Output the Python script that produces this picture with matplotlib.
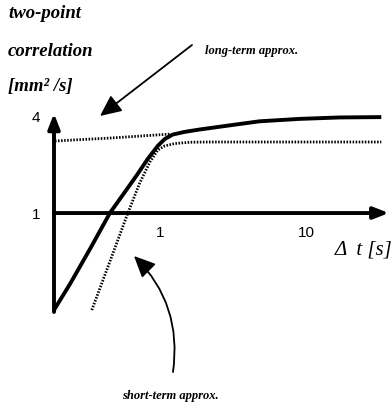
import matplotlib
matplotlib.use("Agg")
import matplotlib.pyplot as plt
from matplotlib.patches import FancyArrowPatch

# ---- data (log-log axes) ----
full_x = [0.19, 0.244, 0.334, 0.457, 0.578, 0.698, 0.829, 0.969, 1.081, 1.226, 1.48, 1.87, 2.99, 4.79, 8.96, 16.8, 32.4]
full_y = [0.25, 0.362, 0.597, 1.0, 1.35, 1.72, 2.17, 2.61, 2.88, 3.07, 3.19, 3.30, 3.50, 3.71, 3.84, 3.92, 3.94]

long_x = [0.193, 0.457, 1.17]
long_y = [2.80, 2.92, 3.09]

short_x = [0.344, 0.457, 0.606, 0.731, 0.855, 0.969, 1.081, 1.265, 1.60, 2.1, 32.4]
short_y = [0.25, 0.50, 1.0, 1.54, 2.07, 2.46, 2.61, 2.70, 2.75, 2.76, 2.76]

x_ticks = [1, 10]
x_ticklabels = ["1", "10"]
y_ticks = [1, 4]
y_ticklabels = ["1", "4"]

plt.rcParams['font.family'] = ['Liberation Sans', 'DejaVu Sans']
fig = plt.figure(figsize=(3.92, 4.13), dpi=100)
ax = fig.add_axes([54/392, 1-312/413, (388-54)/392, (312-115)/413])
ax.set_xscale('log')
ax.set_yscale('log')
ax.set_xlim(0.19, 36)
ax.set_ylim(0.243, 4.06)

for s in ax.spines.values():
    s.set_visible(False)
ax.spines['bottom'].set_position(('data', 1))

# axes with arrows
ax.annotate('', xy=(36.5, 1), xytext=(0.19, 1),
            arrowprops=dict(arrowstyle='-|>,head_length=0.9,head_width=0.35', lw=2.8, color='black',
                            shrinkA=0, shrinkB=0), annotation_clip=False)
ax.annotate('', xy=(0.19, 4.15), xytext=(0.19, 0.243),
            arrowprops=dict(arrowstyle='-|>,head_length=0.9,head_width=0.35', lw=2.8, color='black',
                            shrinkA=0, shrinkB=0), annotation_clip=False)

ax.set_xticks(x_ticks)
ax.set_xticklabels(x_ticklabels)
ax.set_yticks(y_ticks)
ax.set_yticklabels(y_ticklabels)
ax.minorticks_off()
ax.tick_params(axis='both', length=0, labelsize=11)
ax.tick_params(axis='x', pad=9)
ax.tick_params(axis='y', pad=10)

dot = (0, (0.55, 0.55))
ax.plot(full_x, full_y, color='black', lw=2.8, solid_capstyle='butt', solid_joinstyle='round', clip_on=False)
ax.plot(long_x, long_y, color='black', lw=2.0, ls=dot, clip_on=False)
ax.plot(short_x, short_y, color='black', lw=2.0, ls=dot, clip_on=False)

serif = ['Liberation Serif', 'DejaVu Serif']
for txt, y in [("two-point", 14), ("correlation", 52), ("[mm² /s]", 87)]:
    fig.text(8/392, 1-y/413, txt, family=serif, style='italic', weight='bold',
             fontsize=13.5, ha='left', va='center')

fig.text(205/392, 1-51/413, "long-term approx.", family=serif, style='italic', weight='bold',
         fontsize=9, ha='left', va='center')
fig.text(122/392, 1-396/413, "short-term approx.", family=serif, style='italic', weight='bold',
         fontsize=9, ha='left', va='center')
fig.text(335/392, 1-250/413, "Δ  t [s]", family=serif, style='italic',
         fontsize=15, ha='left', va='center')

# arrows for annotations
a1 = FancyArrowPatch((192/392, 1-45/413), (100/392, 1-116/413), transform=fig.transFigure,
                     arrowstyle='-|>,head_length=13,head_width=6', lw=1.3, color='black',
                     shrinkA=0, shrinkB=0)
fig.patches.append(a1)
a2 = FancyArrowPatch((173/392, 1-372/413), (134/392, 1-256/413), transform=fig.transFigure,
                     arrowstyle='-|>,head_length=13,head_width=6', lw=1.3, color='black',
                     connectionstyle='arc3,rad=0.25', shrinkA=0, shrinkB=0)
fig.patches.append(a2)

fig.savefig("out.png", dpi=100)
